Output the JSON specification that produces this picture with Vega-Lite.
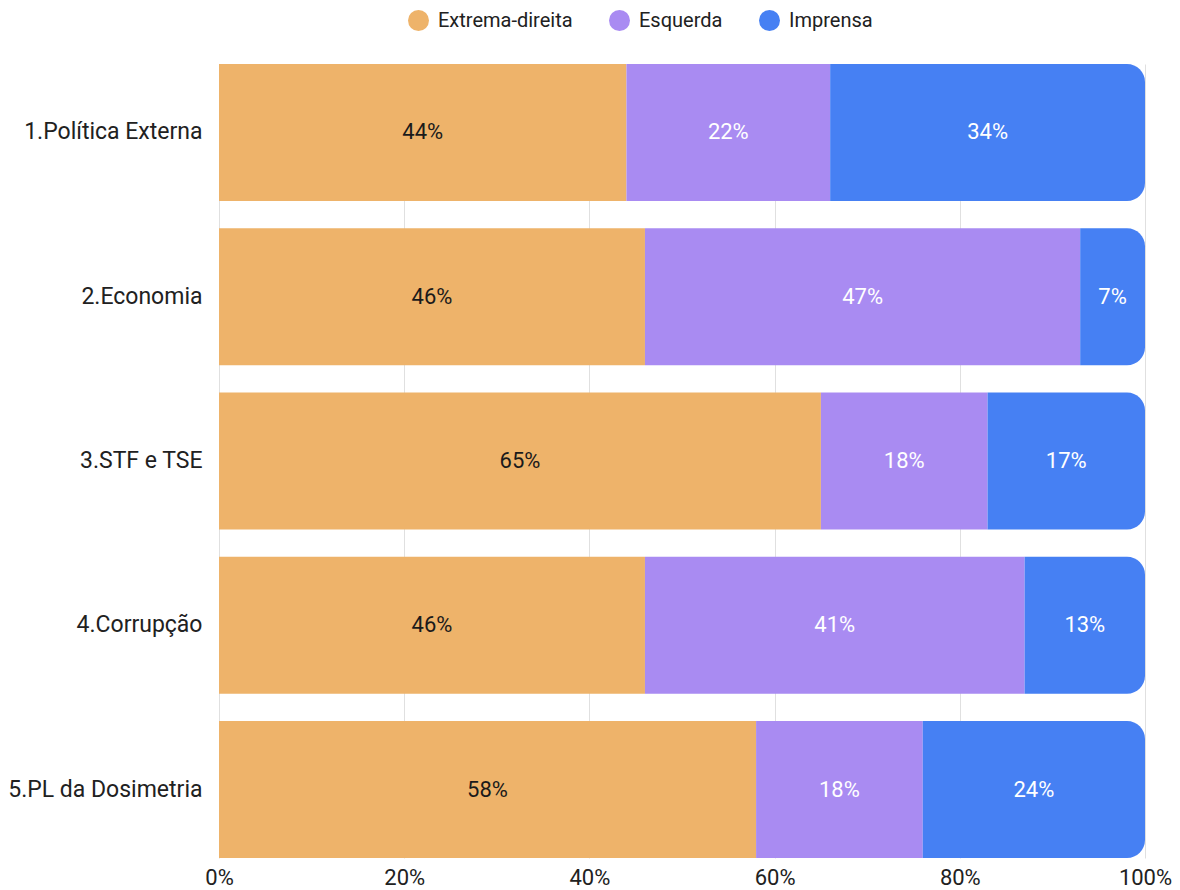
{
  "$schema": "https://vega.github.io/schema/vega-lite/v6.json",
  "width": 926,
  "height": 794,
  "autosize": "none",
  "padding": {"left": 219, "top": 64, "right": 35, "bottom": 32},
  "config": {
    "font": "Roboto",
    "view": {"stroke": null},
    "axis": {"labelColor": "#212121", "labelFont": "Roboto"},
    "legend": {"labelFont": "Roboto"}
  },
  "data": {
    "values": [
      {"topic": "1.Política Externa", "group": "Extrema-direita", "order": 1, "share": 0.44},
      {"topic": "1.Política Externa", "group": "Esquerda", "order": 2, "share": 0.22},
      {"topic": "1.Política Externa", "group": "Imprensa", "order": 3, "share": 0.34},
      {"topic": "2.Economia", "group": "Extrema-direita", "order": 1, "share": 0.46},
      {"topic": "2.Economia", "group": "Esquerda", "order": 2, "share": 0.47},
      {"topic": "2.Economia", "group": "Imprensa", "order": 3, "share": 0.07},
      {"topic": "3.STF e TSE", "group": "Extrema-direita", "order": 1, "share": 0.65},
      {"topic": "3.STF e TSE", "group": "Esquerda", "order": 2, "share": 0.18},
      {"topic": "3.STF e TSE", "group": "Imprensa", "order": 3, "share": 0.17},
      {"topic": "4.Corrupção", "group": "Extrema-direita", "order": 1, "share": 0.46},
      {"topic": "4.Corrupção", "group": "Esquerda", "order": 2, "share": 0.41},
      {"topic": "4.Corrupção", "group": "Imprensa", "order": 3, "share": 0.13},
      {"topic": "5.PL da Dosimetria", "group": "Extrema-direita", "order": 1, "share": 0.58},
      {"topic": "5.PL da Dosimetria", "group": "Esquerda", "order": 2, "share": 0.18},
      {"topic": "5.PL da Dosimetria", "group": "Imprensa", "order": 3, "share": 0.24}
    ]
  },
  "transform": [
    {
      "stack": "share",
      "groupby": ["topic"],
      "sort": [{"field": "order", "order": "ascending"}],
      "as": ["x0", "x1"]
    },
    {"calculate": "(datum.x0 + datum.x1) / 2", "as": "mid"}
  ],
  "encoding": {
    "y": {
      "field": "topic",
      "type": "nominal",
      "sort": null,
      "scale": {"paddingInner": 0.166, "paddingOuter": 0},
      "axis": {
        "title": null,
        "domain": false,
        "ticks": false,
        "labelFontSize": 23,
        "labelLimit": 300,
        "labelPadding": 17
      }
    }
  },
  "layer": [
    {
      "transform": [{"filter": "datum.group !== 'Imprensa'"}],
      "mark": {"type": "bar"},
      "encoding": {
        "x": {
          "field": "x0",
          "type": "quantitative",
          "scale": {"domain": [0, 1], "nice": false},
          "axis": {
            "title": null,
            "values": [0, 0.2, 0.4, 0.6, 0.8, 1],
            "format": ".0%",
            "grid": true,
            "gridColor": "#e0e0e0",
            "domain": false,
            "ticks": false,
            "labelFlush": false,
            "labelFontSize": 22,
            "labelPadding": 9
          }
        },
        "x2": {"field": "x1"},
        "color": {
          "field": "group",
          "type": "nominal",
          "scale": {
            "domain": ["Extrema-direita", "Esquerda", "Imprensa"],
            "range": ["#EEB36A", "#A98BF2", "#4680F3"]
          },
          "legend": {
            "title": null,
            "orient": "none",
            "direction": "horizontal",
            "legendX": 189,
            "legendY": -54,
            "symbolType": "circle",
            "symbolSize": 441,
            "symbolStrokeWidth": 0,
            "symbolOpacity": 1,
            "labelFontSize": 20,
            "labelColor": "#212121",
            "labelOffset": 9,
            "columnPadding": 36,
            "padding": 0
          }
        }
      }
    },
    {
      "transform": [{"filter": "datum.group === 'Imprensa'"}],
      "mark": {"type": "bar", "cornerRadiusTopRight": 18, "cornerRadiusBottomRight": 18},
      "encoding": {
        "x": {"field": "x0", "type": "quantitative"},
        "x2": {"field": "x1"},
        "color": {"field": "group", "type": "nominal"}
      }
    },
    {
      "mark": {"type": "text", "fontSize": 22, "align": "center", "baseline": "middle"},
      "encoding": {
        "x": {"field": "mid", "type": "quantitative"},
        "text": {"field": "share", "type": "quantitative", "format": ".0%"},
        "color": {
          "condition": {"test": "datum.group === 'Extrema-direita'", "value": "#1a1a1a"},
          "value": "#ffffff"
        }
      }
    }
  ]
}
